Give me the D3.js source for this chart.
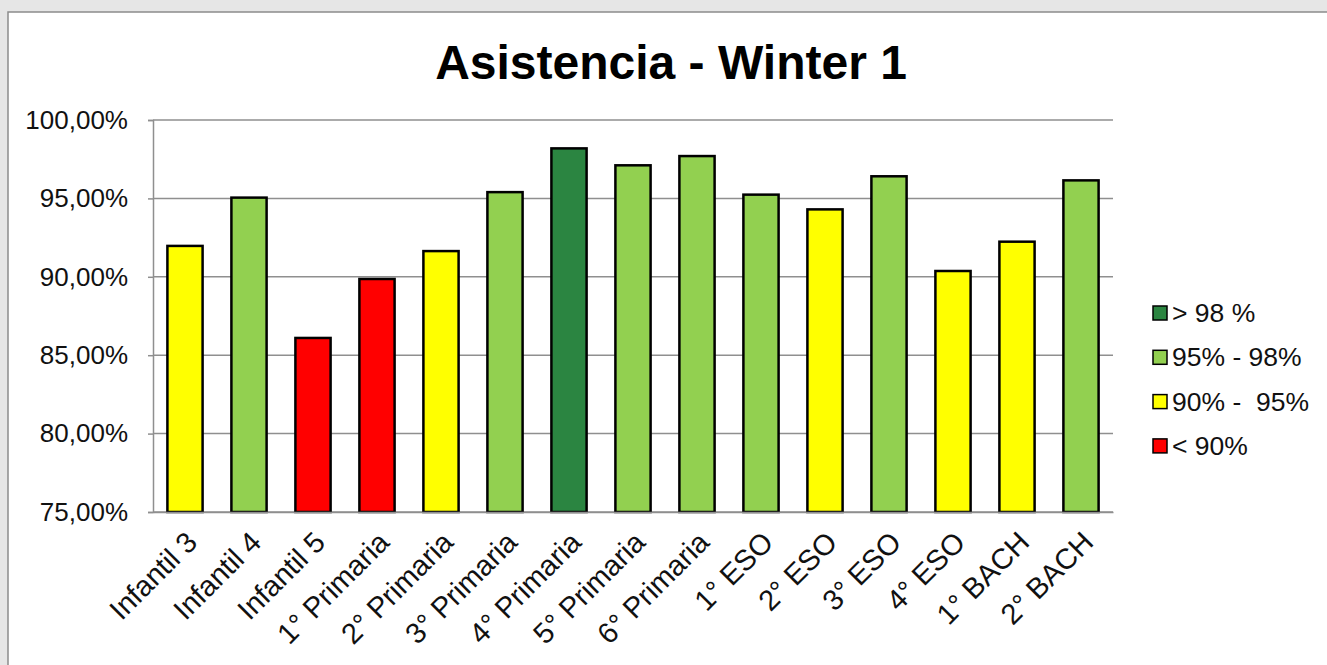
<!DOCTYPE html>
<html>
<head>
<meta charset="utf-8">
<script src="https://cdn.jsdelivr.net/npm/d3@7"></script>
<style>
  body { margin: 0; background: #e6e6e6; overflow: hidden; }
  svg text { font-family: "Liberation Sans", Arial, sans-serif; }
</style>
</head>
<body>
<svg id="chart" width="1327" height="665"></svg>
<script>
// data
var categories = ["Infantil 3", "Infantil 4", "Infantil 5", "1° Primaria", "2° Primaria",
  "3° Primaria", "4° Primaria", "5° Primaria", "6° Primaria", "1° ESO", "2° ESO",
  "3° ESO", "4° ESO", "1° BACH", "2° BACH"];
var asistencia = [91.97, 95.05, 86.1, 89.86, 91.64, 95.4, 98.19, 97.11, 97.7,
  95.24, 94.3, 96.41, 90.37, 92.24, 96.15];
var yTicks = [75, 80, 85, 90, 95, 100];
var legendLabels = ["> 98 %", "95% - 98%", "90% -  95%", "< 90%"];
var thresholds = [90, 95, 98];
var bandColors = ["#ff0000", "#ffff00", "#92d050", "#2b8541"];

var svg = d3.select("#chart");

// white chart panel on a grey page
svg.append("rect")
  .attr("x", 8).attr("y", 12)
  .attr("width", 1330).attr("height", 670)
  .attr("fill", "#fff")
  .attr("stroke", "#8c8c8c")
  .attr("stroke-width", 1.5);

var margin = {left: 153, right: 1113, top: 120, bottom: 512};

var x = d3.scaleBand()
  .domain(categories)
  .range([margin.left, margin.right])
  .paddingInner(0.45)
  .paddingOuter(0.225);

var y = d3.scaleLinear()
  .domain([75, 100])
  .range([margin.bottom, margin.top]);

var color = d3.scaleThreshold()
  .domain(thresholds)
  .range(bandColors);

// title
svg.append("text")
  .attr("x", 671)
  .attr("y", 79)
  .attr("text-anchor", "middle")
  .style("font-size", "48px")
  .style("font-weight", "bold")
  .text("Asistencia - Winter 1");

// grid lines
svg.append("g")
  .selectAll("line")
  .data(yTicks)
  .enter()
  .append("line")
  .attr("x1", margin.left).attr("x2", margin.right)
  .attr("y1", function(d) { return y(d); })
  .attr("y2", function(d) { return y(d); })
  .attr("stroke", "#8f8f8f")
  .attr("stroke-width", 1.5);

// y axis
var yAxis = svg.append("g")
  .attr("transform", "translate(" + margin.left + ",0)")
  .call(d3.axisLeft(y)
    .tickValues(yTicks)
    .tickSize(5)
    .tickPadding(20)
    .tickFormat(function(d) { return d3.format(".2f")(d).replace(".", ",") + "%"; }));
yAxis.select(".domain").attr("stroke", "#8f8f8f").attr("stroke-width", 1.5);
yAxis.selectAll(".tick line").attr("stroke", "#8f8f8f").attr("stroke-width", 1.5);
yAxis.selectAll("text")
  .style("font-size", "26px")
  .style("font-family", "'Liberation Sans', Arial, sans-serif")
  .attr("fill", "#111");

// bars
svg.append("g")
  .selectAll("rect")
  .data(asistencia)
  .enter()
  .append("rect")
  .attr("x", function(d, i) { return x(categories[i]); })
  .attr("y", function(d) { return y(d); })
  .attr("width", x.bandwidth())
  .attr("height", function(d) { return y(75) - y(d); })
  .attr("fill", function(d) { return color(d); })
  .attr("stroke", "#000")
  .attr("stroke-width", 2.5);

// x axis
var xAxis = svg.append("g")
  .attr("transform", "translate(0," + margin.bottom + ")")
  .call(d3.axisBottom(x).tickSize(0).tickPadding(0));
xAxis.select(".domain").attr("stroke", "#8f8f8f").attr("stroke-width", 1.5);
xAxis.selectAll("text")
  .style("font-size", "29px")
  .style("font-family", "'Liberation Sans', Arial, sans-serif")
  .attr("fill", "#111")
  .attr("text-anchor", "end")
  .attr("dy", "0")
  .attr("transform", "translate(14,32)rotate(-45)");

// legend
var legend = svg.append("g")
  .attr("transform", "translate(1153,313)");

var items = legend.selectAll("g")
  .data(legendLabels)
  .enter()
  .append("g")
  .attr("transform", function(d, i) { return "translate(0," + (i * 44.3) + ")"; });

items.append("rect")
  .attr("x", 0).attr("y", -7)
  .attr("width", 14).attr("height", 14)
  .attr("fill", function(d, i) { return bandColors[3 - i]; })
  .attr("stroke", "#000")
  .attr("stroke-width", 1.5);

items.append("text")
  .attr("x", 19)
  .attr("y", 9)
  .style("font-size", "26.5px")
  .style("white-space", "pre")
  .attr("fill", "#111")
  .text(function(d) { return d; });
</script>
</body>
</html>
